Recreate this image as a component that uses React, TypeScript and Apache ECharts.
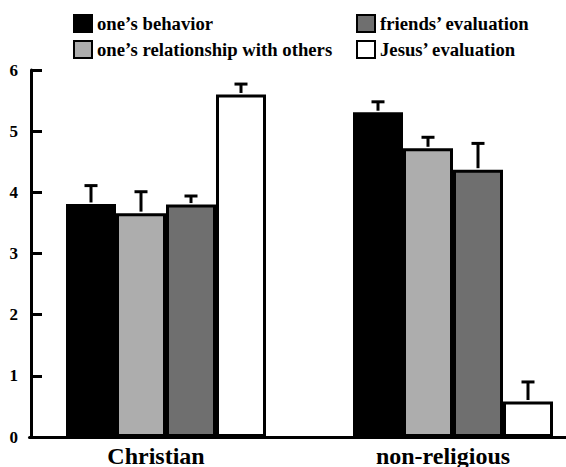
import React, { useEffect, useRef } from "react";
import * as echarts from "echarts";

const categories = ["Christian", "non-religious"];
const seriesNames = [
  "one\u2019s behavior",
  "one\u2019s relationship with others",
  "friends\u2019 evaluation",
  "Jesus\u2019 evaluation",
];
const seriesColors = ["#000000", "#adadad", "#6f6f6f", "#ffffff"];
// means per series: [Christian, non-religious]
const behavior = [3.81, 5.31];
const relationship = [3.66, 4.72];
const friends = [3.8, 4.37];
const jesus = [5.6, 0.58];
// upper ends of error bars
const behaviorErr = [4.11, 5.48];
const relationshipErr = [4.01, 4.9];
const friendsErr = [3.94, 4.8];
const jesusErr = [5.77, 0.9];
const yTicks = [0, 1, 2, 3, 4, 5, 6];

const means = [behavior, relationship, friends, jesus];
const uppers = [behaviorErr, relationshipErr, friendsErr, jesusErr];

const FONT = "'Liberation Serif', 'Times New Roman', serif";
const BAR_W = 50;

export default function App() {
  const ref = useRef<HTMLDivElement>(null);
  useEffect(() => {
    if (!ref.current) return;
    const chart = echarts.init(ref.current, null, { renderer: "svg" });

    const errData: number[][] = [];
    means.forEach((m, s) => {
      m.forEach((v, c) => {
        errData.push([c, s, v, uppers[s][c]]);
      });
    });

    const barSeries = means.map((m, s) => ({
      name: seriesNames[s],
      type: "bar",
      xAxisIndex: 0,
      yAxisIndex: 0,
      data: m,
      barWidth: BAR_W,
      barGap: "0%",
      itemStyle: { color: seriesColors[s], borderColor: "#000", borderWidth: 3 },
      z: 2,
    }));

    const legendText = { fontFamily: FONT, fontWeight: "bold", fontSize: 18.7, color: "#000" };
    const legendBase = {
      orient: "vertical",
      top: 9,
      itemWidth: 18,
      itemHeight: 17,
      itemGap: 7,
      icon: "rect",
      itemStyle: { borderWidth: 2, borderColor: "#000" },
      textStyle: legendText,
    };

    const option: any = {
      animation: false,
      backgroundColor: "#ffffff",
      textStyle: { fontFamily: FONT },
      legend: [
        { ...legendBase, left: 68, data: [seriesNames[0], seriesNames[1]] },
        { ...legendBase, left: 351, data: [seriesNames[2], seriesNames[3]] },
      ],
      grid: [
        { left: 22.5, width: 574, top: 70, bottom: 30, containLabel: false, outerBoundsMode: "none" },
        { left: 29.5, right: 0, top: 70, bottom: 30, containLabel: false, outerBoundsMode: "none" },
      ],
      xAxis: [
        {
          type: "category",
          gridIndex: 0,
          data: categories,
          axisLine: { show: false },
          axisTick: { show: false },
          axisLabel: {
            margin: 9,
            fontFamily: FONT,
            fontWeight: "bold",
            fontSize: 24,
            lineHeight: 20,
            color: "#000",
            formatter: (v: string) => `{c|${v}}`,
            rich: {
              c: { padding: [0, 20, 0, 0], fontFamily: FONT, fontWeight: "bold", fontSize: 24, lineHeight: 20, color: "#000" },
            },
          },
        },
        {
          type: "value",
          gridIndex: 1,
          min: 0,
          max: 1,
          axisLine: { show: true, lineStyle: { color: "#000", width: 3 } },
          axisTick: { show: false },
          axisLabel: { show: false },
          splitLine: { show: false },
        },
      ],
      yAxis: [
        {
          type: "value",
          gridIndex: 0,
          min: 0,
          max: 6,
          interval: 1,
          offset: -8.5,
          axisLine: { show: true, lineStyle: { color: "#000", width: 3 } },
          axisTick: { show: true, inside: true, length: 11, lineStyle: { color: "#000", width: 3 } },
          axisLabel: {
            margin: 13,
            fontFamily: FONT,
            fontWeight: "bold",
            fontSize: 17,
            color: "#000",
            formatter: (v: number) => (yTicks.includes(v) ? String(v) : ""),
          },
          splitLine: { show: false },
        },
        {
          type: "value",
          gridIndex: 1,
          min: 0,
          max: 6,
          show: false,
        },
      ],
      series: [
        ...barSeries,
        {
          type: "custom",
          xAxisIndex: 0,
          yAxisIndex: 0,
          z: 3,
          silent: true,
          data: errData,
          encode: { x: 0, y: 3 },
          renderItem: (params: any, api: any) => {
            const c = api.value(0);
            const s = api.value(1);
            const top = api.coord([c, api.value(2)]);
            const up = api.coord([c, api.value(3)]);
            const x = top[0] + (s - 1.5) * BAR_W;
            const style = { stroke: "#000", lineWidth: 3, fill: "none" };
            return {
              type: "group",
              children: [
                { type: "line", shape: { x1: x, y1: top[1] - 1.5, x2: x, y2: up[1] }, style },
                { type: "line", shape: { x1: x - 6.5, y1: up[1], x2: x + 6.5, y2: up[1] }, style },
              ],
            };
          },
        },
      ],
    };
    chart.setOption(option);
    return () => chart.dispose();
  }, []);
  return (
    <div
      ref={ref}
      style={{ position: "fixed", left: 0, top: 0, width: 566, height: 467, background: "#fff" }}
    />
  );
}
